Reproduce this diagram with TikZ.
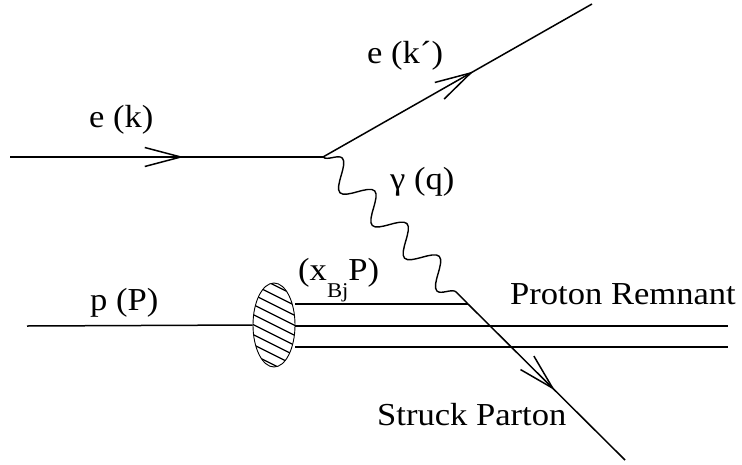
\documentclass[tikz,border=0pt]{standalone}
\usepackage{fontspec}
\setmainfont{Liberation Serif}
\newfontfamily\lblfont{Liberation Serif}
\usetikzlibrary{arrows.meta,decorations.markings,decorations.pathmorphing,shapes.geometric}
\begin{document}
\begin{tikzpicture}[x=1pt,y=1pt,
  lbl/.style={font=\lblfont\fontsize{32}{38}\selectfont, inner sep=0pt, anchor=base west, xscale=1.08},
  fline/.style={line width=1.5pt},
  midarrow/.style={postaction={decorate}, decoration={markings,
      mark=at position #1 with {\arrow{Straight Barb[length=36pt,width=19pt,line width=1.5pt]}}}},
  photon/.style={line width=1.4pt, decorate, decoration={snake, segment length=46pt, amplitude=13pt}}
]
\useasboundingbox (0,0) rectangle (742,-464);
% vertices and ends
\coordinate (ein) at (10,-157);
\coordinate (v1) at (323,-157);
\coordinate (eout) at (592,-4);
\coordinate (v2) at (468,-304);
\coordinate (pend) at (625,-460);
\coordinate (pin) at (27,-326);
\node (blob) [ellipse, draw, line width=0.9pt, minimum width=42pt, minimum height=84pt, inner sep=0pt,
  path picture={\foreach \c in {-70,-60,...,70}
     \draw[line width=1.2pt] ([shift={(-30,\c+15)}]path picture bounding box.center) -- ++(60,-30);}]
  at (274,-325) {};
\coordinate (qa) at (295,-304);
\coordinate (qb) at (295,-326);
\coordinate (qc) at (295,-347);
\coordinate (rb) at (728,-326);
\coordinate (rc) at (728,-347);
% lines
\draw[fline, midarrow=0.555] (ein) -- (v1);
\draw[fline, midarrow=0.559] (v1) -- (eout);
\draw[photon] (v1) -- (v2);
\draw[fline] (pin) -- (blob.west);
\draw[fline] (qa) -- (v2);
\draw[fline] (qb) -- (rb);
\draw[fline] (qc) -- (rc);
\draw[fline, midarrow=0.553] (v2) -- (pend);
% labels
\node[lbl] (lek) at (89,-127) {e (k)};
\node[lbl] (lekp) at (367,-63) {e (k\char"00B4)};
\node[lbl] (lg) at (390,-189) {γ (q)};
\node[lbl] (lx) at (298,-280) {(x\raisebox{-17pt}{\fontsize{21}{24}\selectfont Bj}P)};
\node[lbl] (lp) at (90,-310) {p (P)};
\node[lbl] (lpr) at (510,-304) {Proton Remnant};
\node[lbl] (lsp) at (377,-425) {Struck Parton};
\end{tikzpicture}
\end{document}
